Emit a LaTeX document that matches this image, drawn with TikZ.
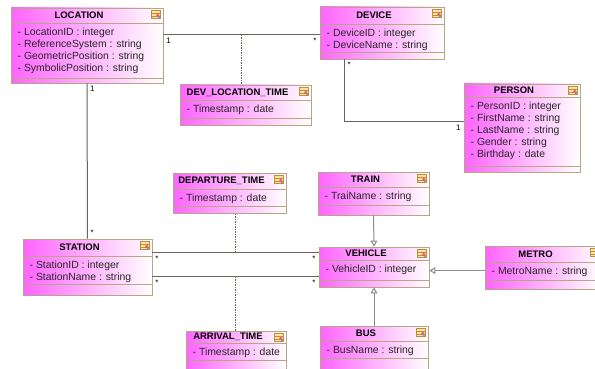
\documentclass[tikz,border=0pt]{standalone}
\usepackage{fontspec}
\setmainfont{Liberation Sans}
\usetikzlibrary{arrows.meta, positioning, fit}
\definecolor{umlpink}{RGB}{255,100,255}
\definecolor{umlborder}{RGB}{182,166,132}
\definecolor{assocgray}{RGB}{108,100,90}
\definecolor{gengray}{RGB}{140,140,140}
\definecolor{iconfill}{RGB}{250,228,160}
\definecolor{iconline}{RGB}{190,140,60}

% #1 name, #2 left, #3 top, #4 right, #5 bottom, #6 header line, #7 attribute line, #8 title, #9 attributes
\newcommand{\umlclass}[9]{%
  \node[classbox, fit={(#2,#3) (#4,#5)}] (#1) {};
  \draw[compline] (#2,#6) -- (#4,#6);
  \draw[compline] (#2,#7) -- (#4,#7);
  \node[classtitle] (#1-title) at ({(#2+#4)/2-8},{(#3+#6)/2}) {#8};
  \node[classattr] (#1-attr) at ({#2+6.5},{#6+5.2}) {#9};
  \pic at ({#4-7},{#3+6.5}) {classicon};
}

\begin{document}
\begin{tikzpicture}[
        x=1pt, y=-1pt,
        classbox/.style={rectangle, draw=umlborder, line width=0.8pt, inner sep=0pt, left color=umlpink, middle color=umlpink!45, right color=white},
        compline/.style={draw=umlborder, line width=0.8pt},
        classtitle/.style={font=\fontsize{9.5}{11}\selectfont\bfseries, inner sep=0pt},
        classattr/.style={anchor=north west, inner sep=0pt, align=left, font=\fontsize{10.4}{12}\selectfont, text=black!85},
        classicon/.pic={
            \fill[iconfill] (-4.5,-4) rectangle (4.5,4);
            \draw[iconline, line width=0.4pt] (-4.5,-4) rectangle (4.5,4) (-4.5,-1.3) -- (4.5,-1.3) (-4.5,1.3) -- (4.5,1.3);
            \fill[red!65] (1.8,0.8) circle (1.7);
            \fill[blue!50] (2.8,2.6) circle (1.1);
        },
        assoc/.style={draw=assocgray, line width=1pt},
        assocclass/.style={draw=assocgray, line width=0.7pt, dash pattern=on 1.5pt off 1pt},
        generalize/.style={draw=gengray, line width=1pt, -{Triangle[open, length=6pt, width=7pt]}},
        mult/.style={font=\fontsize{8}{9}\selectfont, inner sep=2.5pt}
        ]
        \useasboundingbox (0,0) rectangle (595,369);
        \clip (0,0) rectangle (595,369);
        \fill[white] (0,0) rectangle (595,369);

        % Classes
        \umlclass{location}{11}{8}{163}{83}{23}{78}{LOCATION}{- LocationID : integer\\- ReferenceSystem : string\\- GeometricPosition : string\\- SymbolicPosition : string}
        \umlclass{device}{320}{7}{444}{59}{24}{52}{DEVICE}{- DeviceID : integer\\- DeviceName : string}
        \umlclass{devloc}{180}{85}{311}{125}{100}{118}{DEV\_LOCATION\_TIME}{- Timestamp : date}
        \umlclass{person}{464}{84}{580}{172}{97}{166}{PERSON}{- PersonID : integer\\- FirstName : string\\- LastName : string\\- Gender : string\\- Birthday : date}
        \umlclass{station}{23}{239}{152}{295}{256}{284}{STATION}{- StationID : integer\\- StationName : string}
        \umlclass{departure}{173}{173}{286}{213}{189}{206}{DEPARTURE\_TIME}{- Timestamp : date}
        \umlclass{arrival}{186}{331}{286}{374}{343}{360}{ARRIVAL\_TIME}{- Timestamp : date}
        \umlclass{train}{318}{172}{429}{215}{187}{205}{TRAIN}{- TraiName : string}
        \umlclass{vehicle}{319}{247}{429}{287}{260}{280}{VEHICLE}{- VehicleID : integer}
        \umlclass{metro}{485}{246}{602}{289}{262}{280}{METRO}{- MetroName : string}
        \umlclass{bus}{320}{326}{428}{374}{341}{358}{BUS}{- BusName : string}

        % Associations with multiplicities
        \draw[assoc] ([yshift=-27]location.north east) -- coordinate (ldline) node[mult, pos=0, below right] {1} node[mult, pos=1, below left] {*} ([yshift=-28]device.north west);
        \draw[assoc] (location.south) -- node[mult, pos=0, below right] {1} node[mult, pos=1, above right] {*} (station.north);
        \draw[assoc] ([xshift=25]device.south west) |- node[mult, pos=0, below right] {*} node[mult, pos=1, below left] {1} ([yshift=-38]person.north west);
        \draw[assoc] ([yshift=-14]station.north east) -- coordinate (depline) node[mult, pos=0, below right] {*} node[mult, pos=1, below left] {*} ([yshift=-6]vehicle.north west);
        \draw[assoc] ([yshift=-38]station.north east) -- coordinate (arrline) node[mult, pos=0, below right] {*} node[mult, pos=1, below left] {*} ([yshift=-30]vehicle.north west);

        % Association classes
        \draw[assocclass] (ldline) -- (ldline |- devloc.north);
        \draw[assocclass] (depline) -- (depline |- departure.south);
        \draw[assocclass] (arrline) -- (arrline |- arrival.north);

        % Generalizations
        \draw[generalize] (train.south) -- (vehicle.north);
        \draw[generalize] (bus.north) -- (vehicle.south);
        \draw[generalize] ([yshift=-25]metro.north west) -- ([yshift=-24]vehicle.north east);

    \end{tikzpicture}
\end{document}
